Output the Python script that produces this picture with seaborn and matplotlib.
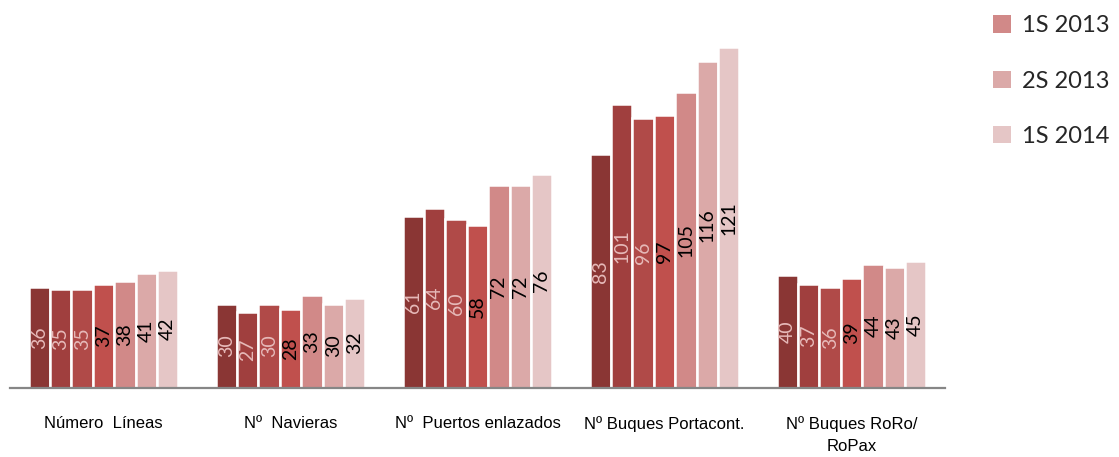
import matplotlib
matplotlib.use("Agg")
import matplotlib.pyplot as plt
import matplotlib.patches as mpatches
import seaborn as sns
import pandas as pd

categories = ["Número  Líneas", "Nº  Navieras", "Nº  Puertos enlazados",
              "Nº Buques Portacont.", "Nº Buques RoRo/\nRoPax"]
periods = ["1S 2011", "2S 2011", "1S 2012", "2S 2012", "1S 2013", "2S 2013", "1S 2014"]
values = {
    "1S 2011": [36, 30, 61, 83, 40],
    "2S 2011": [35, 27, 64, 101, 37],
    "1S 2012": [35, 30, 60, 96, 36],
    "2S 2012": [37, 28, 58, 97, 39],
    "1S 2013": [38, 33, 72, 105, 44],
    "2S 2013": [41, 30, 72, 116, 43],
    "1S 2014": [42, 32, 76, 121, 45],
}
legend_periods = ["1S 2013", "2S 2013", "1S 2014"]

colors = ["#8A3634", "#A03F3E", "#B04A48", "#C0504D", "#D18988", "#DBA9A8", "#E5C6C6"]
label_colors = ["#E6B9B8", "#E6B9B8", "#E6B9B8", "black", "black", "black", "black"]

rows = []
for p in periods:
    for c, v in zip(categories, values[p]):
        rows.append({"cat": c, "period": p, "val": v})
df = pd.DataFrame(rows)

sns.set_theme(style="white")
plt.rcParams["font.family"] = ["Lato", "DejaVu Sans"]

fig = plt.figure(figsize=(11.19, 4.57), dpi=100)
ax = fig.add_axes([10 / 1119, 69 / 457, 935 / 1119, (388 - 36) / 457])

sns.barplot(data=df, x="cat", y="val", hue="period", order=categories,
            hue_order=periods, palette=colors, width=0.8, saturation=1,
            edgecolor="white", linewidth=1.8, legend=False, ax=ax, errorbar=None)

for cont, lc in zip(ax.containers, label_colors):
    ax.bar_label(cont, label_type="center", rotation=90, color=lc, fontsize=14)

ax.set_xlim(-0.5, 4.5)
ax.set_ylim(0, 125)
ax.set_xlabel("")
ax.set_ylabel("")
ax.set_yticks([])
for s in ["top", "right", "left"]:
    ax.spines[s].set_visible(False)
ax.spines["bottom"].set_color("#868686")
ax.spines["bottom"].set_linewidth(1.6)
ax.tick_params(axis="x", length=0, pad=20, colors="black", labelsize=12,
               labelfontfamily="Liberation Sans")
for t in ax.get_xticklabels():
    t.set_linespacing(1.6)

handles = [mpatches.Patch(facecolor=colors[periods.index(p)], edgecolor="none") for p in legend_periods]
fig.legend(handles, legend_periods, loc="upper left", bbox_to_anchor=(978 / 1119, 1.0),
           frameon=False, fontsize=17, labelspacing=1.45, handlelength=0.75,
           handleheight=0.75, handletextpad=0.45, borderaxespad=0.25)

fig.savefig("out.png", dpi=100)
